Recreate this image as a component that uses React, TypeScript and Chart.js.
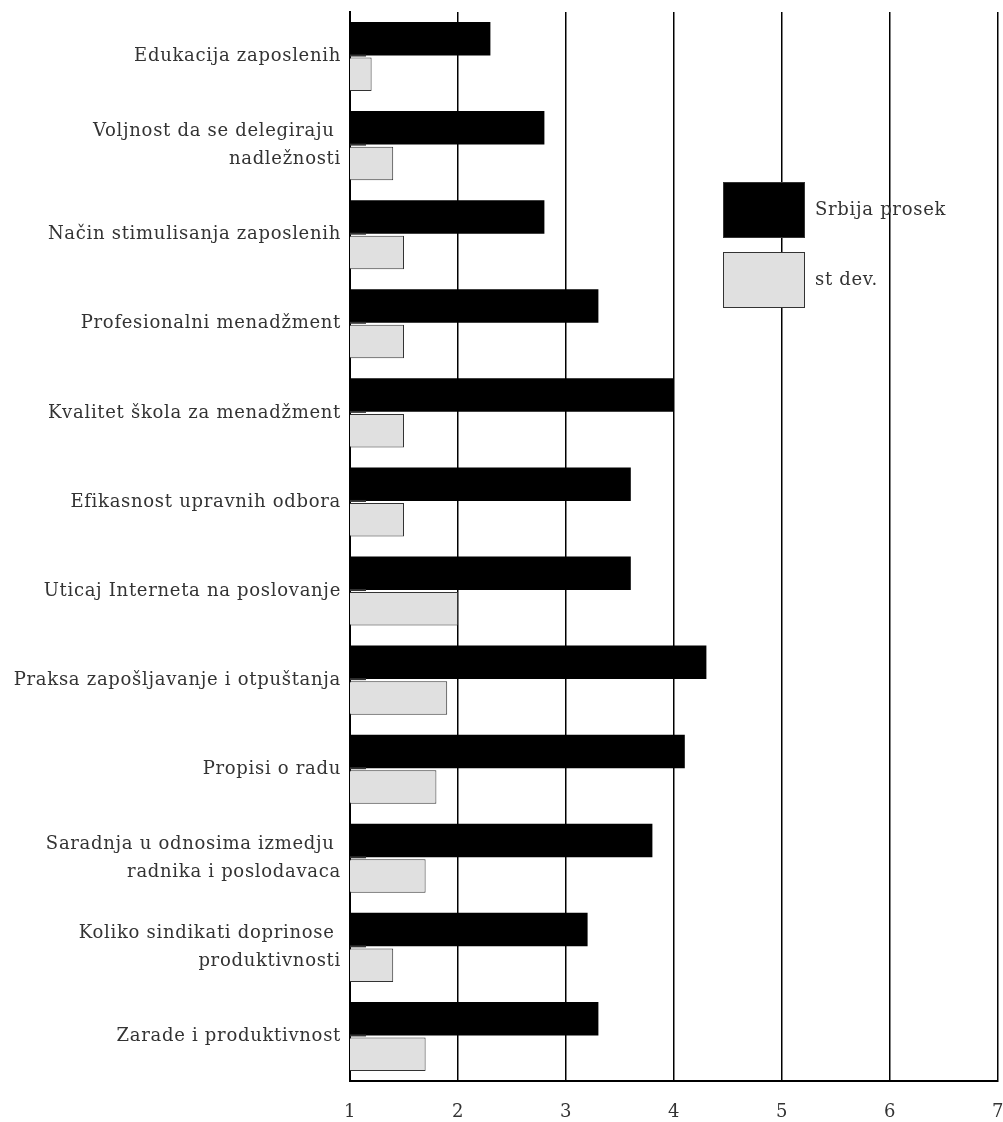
import React, { useEffect, useRef } from "react";
import { Chart, registerables } from "chart.js";

Chart.register(...registerables);

const categories: (string | string[])[] = [
  "Edukacija zaposlenih",
  ["Voljnost da se delegiraju ", "nadležnosti"],
  "Način stimulisanja zaposlenih",
  "Profesionalni menadžment",
  "Kvalitet škola za menadžment",
  "Efikasnost upravnih odbora",
  "Uticaj Interneta na poslovanje",
  "Praksa zapošljavanje i otpuštanja",
  "Propisi o radu",
  ["Saradnja u odnosima izmedju ", "radnika i poslodavaca"],
  ["Koliko sindikati doprinose ", "produktivnosti"],
  "Zarade i produktivnost",
];

const srbijaProsek = [2.3, 2.8, 2.8, 3.3, 4.0, 3.6, 3.6, 4.3, 4.1, 3.8, 3.2, 3.3];
const stDev = [1.2, 1.4, 1.5, 1.5, 1.5, 1.5, 2.0, 1.9, 1.8, 1.7, 1.4, 1.7];
const seriesNames = ["Srbija prosek", "st dev."];
const xTicks = [1, 2, 3, 4, 5, 6, 7];

const FONT = "'DejaVu Serif', 'Liberation Serif', serif";
const SPACING = "0.7px";

const spacingPlugin = {
  id: "spacing",
  beforeInit(chart: any) {
    chart.ctx.letterSpacing = SPACING;
  },
  beforeLayout(chart: any) {
    chart.ctx.letterSpacing = SPACING;
  },
  beforeDraw(chart: any) {
    chart.ctx.letterSpacing = SPACING;
  },
};

const markPlugin = {
  id: "centerMarks",
  afterDatasetsDraw(chart: any) {
    const ctx = chart.ctx;
    const y = chart.scales.y;
    const x0 = chart.chartArea.left;
    ctx.save();
    ctx.strokeStyle = "#333";
    ctx.lineWidth = 2;
    for (let i = 0; i < categories.length; i++) {
      const py = y.getPixelForValue(i) - 1;
      ctx.beginPath();
      ctx.moveTo(x0, py);
      ctx.lineTo(x0 + 16, py);
      ctx.stroke();
    }
    ctx.restore();
  },
};

const legendPlugin = {
  id: "customLegend",
  afterDraw(chart: any) {
    const ctx = chart.ctx;
    ctx.save();
    ctx.letterSpacing = SPACING;
    const boxX = 723;
    const boxW = 82;
    const boxH = 56;
    const items = [
      { y: 182, fill: "#000000", label: seriesNames[0] },
      { y: 252, fill: "#e0e0e0", label: seriesNames[1] },
    ];
    for (const it of items) {
      ctx.fillStyle = it.fill;
      ctx.fillRect(boxX, it.y, boxW, boxH);
      ctx.strokeStyle = "#333";
      ctx.lineWidth = 1;
      ctx.strokeRect(boxX + 0.5, it.y + 0.5, boxW - 1, boxH - 1);
      ctx.fillStyle = "#333";
      ctx.font = `18px ${FONT}`;
      ctx.textBaseline = "middle";
      ctx.textAlign = "left";
      ctx.fillText(it.label, 815, it.y + boxH / 2);
    }
    ctx.restore();
  },
};

export default function App() {
  const ref = useRef<HTMLCanvasElement>(null);
  useEffect(() => {
    document.body.style.margin = "0";
    const chart = new Chart(ref.current!, {
      type: "bar",
      data: {
        labels: categories,
        datasets: [
          {
            label: seriesNames[0],
            data: srbijaProsek,
            backgroundColor: "#000000",
            borderColor: "#000000",
            borderWidth: 0,
            categoryPercentage: 0.8,
            barPercentage: 0.94,
          },
          {
            label: seriesNames[1],
            data: stDev,
            backgroundColor: "#e0e0e0",
            borderColor: "#333333",
            borderWidth: 1,
            categoryPercentage: 0.8,
            barPercentage: 0.94,
          },
        ],
      },
      options: {
        indexAxis: "y",
        animation: false,
        responsive: false,
        maintainAspectRatio: false,
        layout: { padding: { top: 12, right: 5, left: 0, bottom: 0 } },
        plugins: {
          legend: { display: false },
          tooltip: { enabled: false },
        },
        scales: {
          x: {
            min: 1,
            max: 7,
            afterBuildTicks: (s: any) => {
              s.ticks = xTicks.map((v) => ({ value: v }));
            },
            afterFit: (s: any) => {
              s.height = 41;
              s.paddingLeft = 0;
              s.paddingRight = 0;
            },
            grid: {
              color: "#000",
              lineWidth: 1.5,
              drawTicks: false,
            },
            border: { display: true, color: "#000", width: 2 },
            ticks: {
              color: "#333",
              font: { family: FONT, size: 18 },
              padding: 21,
            },
          },
          y: {
            afterFit: (s: any) => {
              s.width = 350;
              s.paddingTop = 0;
              s.paddingBottom = 0;
            },
            grid: { display: false, drawTicks: false },
            border: { display: true, color: "#000", width: 2 },
            ticks: {
              color: "#333",
              font: { family: FONT, size: 18, lineHeight: 1.55 },
              padding: 9,
              autoSkip: false,
            },
          },
        },
      },
      plugins: [spacingPlugin, markPlugin, legendPlugin],
    } as any);
    return () => chart.destroy();
  }, []);
  return (
    <div style={{ width: 1003, height: 1122 }}>
      <canvas ref={ref} width={1003} height={1122} style={{ display: "block" }} />
    </div>
  );
}
